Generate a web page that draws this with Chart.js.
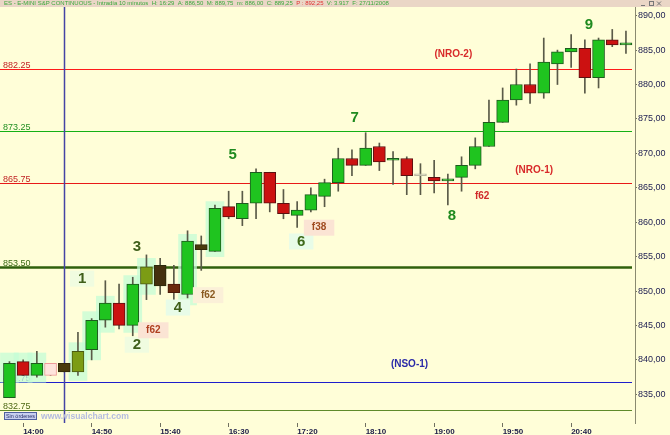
<!DOCTYPE html>
<html>
<head>
  <title>ES - E-MINI S&amp;P CONTINUOUS - Intradía 10 minutos</title>
  <script src="https://cdn.jsdelivr.net/npm/chart.js"></script>
  <style>
    html, body { margin: 0; padding: 0; background: #fffed8; }
    #contenedor { width: 670px; height: 435px; }
  </style>
</head>
<body>
  <div id="contenedor">
    <canvas id="myChart" width="670" height="435"></canvas>
  </div>

  <script>
    // velas de 10 minutos, de 13:50 a 21:20
    var horas = ['13:50','14:00','14:10','14:20','14:30','14:40','14:50','15:00','15:10','15:20',
                 '15:30','15:40','15:50','16:00','16:10','16:20','16:30','16:40','16:50','17:00',
                 '17:10','17:20','17:30','17:40','17:50','18:00','18:10','18:20','18:30','18:40',
                 '18:50','19:00','19:10','19:20','19:30','19:40','19:50','20:00','20:10','20:20',
                 '20:30','20:40','20:50','21:00','21:10','21:20'];

    var apertura = [834.50, 839.75, 837.75, 839.50, 838.25, 838.25, 841.50, 845.75, 848.25, 845.00,
                    851.00, 853.75, 851.00, 849.50, 856.00, 855.75, 862.25, 860.50, 862.75, 867.25,
                    862.75, 861.00, 861.75, 863.75, 865.75, 869.25, 868.25, 871.00, 869.00, 869.25,
                    866.75, 866.50, 866.00, 866.50, 868.25, 871.00, 874.50, 877.75, 880.00, 878.75,
                    883.00, 884.75, 885.25, 881.00, 886.50, 885.75];
    var maximo   = [839.75, 840.00, 841.25, 839.50, 839.50, 844.00, 846.00, 851.50, 851.00, 852.00,
                    855.25, 854.75, 853.75, 858.75, 858.00, 862.50, 864.50, 864.50, 867.75, 867.25,
                    864.75, 863.00, 865.00, 866.25, 870.75, 870.50, 873.00, 871.50, 870.25, 869.50,
                    868.50, 869.00, 867.00, 869.50, 872.25, 877.75, 879.50, 882.25, 883.00, 886.75,
                    885.00, 887.25, 886.50, 886.75, 888.00, 887.75];
    var minimo   = [834.50, 837.75, 837.50, 837.75, 838.25, 837.75, 840.00, 844.75, 844.50, 843.50,
                    848.75, 849.50, 848.25, 849.00, 853.00, 855.75, 860.50, 859.50, 860.50, 861.50,
                    860.50, 859.25, 861.50, 862.25, 864.50, 866.75, 868.25, 867.50, 865.50, 864.00,
                    864.00, 864.25, 862.50, 864.50, 867.75, 871.00, 874.50, 877.00, 877.25, 878.00,
                    880.00, 882.50, 878.75, 879.50, 885.50, 884.50];
    var cierre   = [839.50, 837.75, 839.50, 837.75, 839.50, 841.25, 845.75, 848.25, 845.00, 851.00,
                    853.50, 850.75, 849.75, 857.25, 856.75, 862.00, 860.75, 862.75, 867.25, 862.75,
                    861.25, 861.75, 864.00, 865.75, 869.25, 868.25, 870.75, 868.75, 869.00, 866.75,
                    866.75, 866.00, 866.25, 868.25, 871.00, 874.50, 877.75, 880.00, 878.75, 883.25,
                    884.75, 885.25, 881.00, 886.50, 885.75, 886.00];

    // zonas resaltadas (verde muy claro) detras de algunas velas
    var sombraVela = [0, 1, 2, 5, 6, 7, 9, 10, 13, 15];
    var sombraBajo = [836.75, 836.75, 836.75, 837.00, 840.00, 844.00, 844.00, 849.50, 848.00, 855.00];
    var sombraAlto = [841.00, 841.00, 841.00, 842.50, 847.00, 849.25, 852.25, 854.75, 858.25, 863.00];

    // niveles horizontales
    var niveles       = [882.25, 873.25, 865.75, 853.50, 836.75, 832.75];
    var nivelesTexto  = ['882.25', '873.25', '865.75', '853.50', '836.75', '832.75'];
    var nivelesColor  = ['#ff1a1a', '#14b014', '#e81818', '#2f600c', '#1e1ecc', '#5f8a2a'];
    var nivelesGrosor = [1, 1, 1, 2.5, 1, 1];
    var nivelesLetra  = ['#c02424', '#229022', '#c02424', '#3a6a14', '#2a2aa0', '#4f6a14'];

    // etiquetas sobre el grafico (indice de vela, precio)
    var notas = [
      { t: '1', x: 5.3,  y: 851.8, c: '#3f5f1a', f: 'bold 15px', fondo: '#f0fce0' },
      { t: '2', x: 9.3,  y: 842.2, c: '#3f5f1a', f: 'bold 15px', fondo: '#f0fce0' },
      { t: '3', x: 9.3,  y: 856.4, c: '#3f5f1a', f: 'bold 15px' },
      { t: '4', x: 12.3, y: 847.6, c: '#3f5f1a', f: 'bold 15px', fondo: '#e8fce8' },
      { t: '5', x: 16.3, y: 869.8, c: '#1f8a1f', f: 'bold 15px' },
      { t: '6', x: 21.3, y: 857.2, c: '#3f6a1a', f: 'bold 15px', fondo: '#e8fce8' },
      { t: '7', x: 25.2, y: 875.1, c: '#1f8a1f', f: 'bold 15px' },
      { t: '8', x: 32.3, y: 860.9, c: '#1f8a1f', f: 'bold 15px' },
      { t: '9', x: 42.3, y: 888.6, c: '#1f8a1f', f: 'bold 15px' },
      { t: 'f62', x: 10.5, y: 844.3, c: '#b04020', f: 'bold 10px', fondo: '#fbe4d4' },
      { t: 'f62', x: 14.5, y: 849.4, c: '#8a5a20', f: 'bold 10px', fondo: '#fbf0d8' },
      { t: 'f38', x: 22.6, y: 859.2, c: '#a04a20', f: 'bold 10px', fondo: '#fbe4d4' },
      { t: 'f62', x: 34.5, y: 863.8, c: '#d02a2a', f: 'bold 10px' },
      { t: '(NRO-2)', x: 32.4, y: 884.4, c: '#d82a2a', f: 'bold 10px' },
      { t: '(NRO-1)', x: 38.3, y: 867.6, c: '#d82a2a', f: 'bold 10px' },
      { t: '(NSO-1)', x: 29.2, y: 839.4, c: '#2a2aa8', f: 'bold 10px' }
    ];

    var lineaVertical = 4; // 14:30
    var ticksX = [1, 6, 11, 16, 21, 26, 31, 36, 41];

    // colores especiales de algunas velas
    var especiales = {
      3:  { fill: '#ffe4dc', borde: '#f09a9a' },
      4:  { fill: '#4a3a0c', borde: '#33280a' },
      5:  { fill: '#7c9c14', borde: '#4a5a10' },
      10: { fill: '#7c9c14', borde: '#4a5a10' },
      11: { fill: '#44300e', borde: '#2a2a0a' },
      12: { fill: '#6a2a0c', borde: '#4a1a08' },
      14: { fill: '#4a3a0c', borde: '#33280a' },
      30: { fill: '#d8d8c0', borde: '#b8b8a0' }
    };

    var cuerpos = [], mechas = [], rellenos = [], bordes = [], sombras = [];
    for (var i = 0; i < horas.length; i++) {
      cuerpos.push({ x: i, y: [apertura[i], cierre[i]] });
      mechas.push({ x: i, y: [minimo[i], maximo[i]] });
      var sube = cierre[i] >= apertura[i];
      if (especiales[i]) {
        rellenos.push(especiales[i].fill);
        bordes.push(especiales[i].borde);
      } else {
        rellenos.push(sube ? '#1fc41f' : '#cc1111');
        bordes.push(sube ? '#1f5a1f' : '#5a1010');
      }
    }
    for (var s = 0; s < sombraVela.length; s++) {
      sombras.push({ x: sombraVela[s], y: [sombraBajo[s], sombraAlto[s]] });
    }

    var dibujo = {
      id: 'dibujo',
      beforeDraw: function(chart) {
        var ctx = chart.ctx;
        ctx.save();
        ctx.fillStyle = '#fffed8';
        ctx.fillRect(0, 0, chart.width, chart.height);
        ctx.restore();
      },
      beforeDatasetsDraw: function(chart) {
        var ctx = chart.ctx, a = chart.chartArea;
        var ys = chart.scales.y, xs = chart.scales.x;
        ctx.save();
        for (var k = 0; k < niveles.length; k++) {
          var py = Math.round(ys.getPixelForValue(niveles[k])) + 0.5;
          ctx.strokeStyle = nivelesColor[k];
          ctx.lineWidth = nivelesGrosor[k];
          ctx.beginPath();
          ctx.moveTo(a.left, py);
          ctx.lineTo(a.right - 3, py);
          ctx.stroke();
          ctx.fillStyle = nivelesLetra[k];
          ctx.font = '9px "Liberation Sans", Arial, sans-serif';
          ctx.textAlign = 'left';
          ctx.textBaseline = 'alphabetic';
          ctx.fillText(nivelesTexto[k], 3, py - 2);
        }
        var px = Math.round(xs.getPixelForValue(lineaVertical)) + 0.5;
        ctx.strokeStyle = '#4444a4';
        ctx.lineWidth = 1.5;
        ctx.beginPath();
        ctx.moveTo(px, a.top);
        ctx.lineTo(px, a.bottom);
        ctx.stroke();
        ctx.restore();
      },
      afterDatasetsDraw: function(chart) {
        var ctx = chart.ctx, a = chart.chartArea;
        var ys = chart.scales.y, xs = chart.scales.x;
        ctx.save();
        ctx.textAlign = 'center';
        ctx.textBaseline = 'middle';
        notas.forEach(function(n) {
          var px = xs.getPixelForValue(n.x), py = ys.getPixelForValue(n.y);
          ctx.font = n.f + ' "Liberation Sans", Arial, sans-serif';
          if (n.fondo) {
            var w = ctx.measureText(n.t).width;
            ctx.fillStyle = n.fondo;
            ctx.fillRect(px - w / 2 - 8, py - 8, w + 16, 16);
          }
          ctx.fillStyle = n.c;
          ctx.fillText(n.t, px, py);
        });

        // caja "Sin órdenes" y marca
        ctx.textAlign = 'left';
        ctx.fillStyle = '#c8d0f0';
        ctx.fillRect(4, 412, 33, 8);
        ctx.strokeStyle = '#5060a0';
        ctx.lineWidth = 1;
        ctx.strokeRect(4.5, 412.5, 32, 7);
        ctx.fillStyle = '#28306a';
        ctx.font = '6px "Liberation Sans", Arial, sans-serif';
        ctx.fillText('Sin órdenes', 6, 416.5, 29);
        ctx.fillStyle = '#b4bce0';
        ctx.font = 'bold 9px "Liberation Sans", Arial, sans-serif';
        ctx.fillText('www.visualchart.com', 41, 416.5, 88);
        ctx.restore();
      },
      afterDraw: function(chart) {
        var ctx = chart.ctx;
        ctx.save();
        ctx.fillStyle = '#ead6c6';
        ctx.fillRect(0, 0, chart.width, 7);
        ctx.font = '6px "Liberation Sans", Arial, sans-serif';
        ctx.textBaseline = 'middle';
        ctx.textAlign = 'left';
        var partes = [
          ['ES - E-MINI S&P CONTINUOUS - Intradía 10 minutos  H: 16:29  A: 886,50  M: 889,75  m: 886,00  C: 889,25  ', '#3aa83a'],
          ['P : 892,25', '#e03030'],
          ['  V: 3.917  F: 27/11/2008', '#3aa83a']
        ];
        var x = 4;
        partes.forEach(function(p) {
          ctx.fillStyle = p[1];
          ctx.fillText(p[0], x, 3.8);
          x += ctx.measureText(p[0]).width;
        });
        // botones de ventana
        ctx.strokeStyle = '#777';
        ctx.lineWidth = 1;
        ctx.strokeRect(649.5, 1.5, 4, 4);
        ctx.beginPath();
        ctx.moveTo(641, 5.5); ctx.lineTo(645, 5.5);
        ctx.moveTo(657, 1.5); ctx.lineTo(661, 5.5);
        ctx.moveTo(661, 1.5); ctx.lineTo(657, 5.5);
        ctx.stroke();
        ctx.restore();
      }
    };

    var ctx = document.getElementById('myChart').getContext('2d');
    var myChart = new Chart(ctx, {
      type: 'bar',
      data: {
        datasets: [
          {
            label: 'Cuerpo',
            data: cuerpos,
            backgroundColor: rellenos,
            borderColor: bordes,
            borderWidth: 1,
            borderSkipped: false,
            barThickness: 12,
            minBarLength: 2,
            grouped: false,
            order: 0
          },
          {
            label: 'Mecha',
            data: mechas,
            backgroundColor: '#5a5a48',
            borderWidth: 0,
            barThickness: 1,
            grouped: false,
            order: 1
          },
          {
            label: 'Zona',
            data: sombras,
            backgroundColor: 'rgba(196, 252, 214, 0.75)',
            borderWidth: 0,
            barThickness: 18,
            grouped: false,
            order: 2
          }
        ]
      },
      options: {
        responsive: false,
        animation: false,
        devicePixelRatio: 1,
        layout: { padding: { top: 7, left: 0, right: 0, bottom: 0 } },
        plugins: {
          legend: { display: false },
          tooltip: { enabled: false }
        },
        scales: {
          x: {
            type: 'linear',
            offset: false,
            min: -0.69,
            max: 45.66,
            position: 'bottom',
            grid: { offset: false, drawOnChartArea: false, drawTicks: true, tickLength: 4, color: '#707060' },
            border: { display: false },
            afterBuildTicks: function(scale) {
              scale.ticks = ticksX.map(function(v) { return { value: v }; });
            },
            afterFit: function(scale) { scale.height = 12; },
            ticks: {
              autoSkip: false,
              maxRotation: 0,
              align: 'start',
              padding: 0,
              color: '#20204a',
              font: { family: '"Liberation Sans", Arial, sans-serif', size: 8, weight: 'bold' },
              callback: function(value) { return horas[value]; }
            }
          },
          y: {
            type: 'linear',
            position: 'right',
            min: 830.83,
            max: 891.26,
            grid: { drawOnChartArea: false, drawTicks: true, tickLength: 2, color: '#707060' },
            border: { display: true, color: '#8a8a70', width: 1 },
            afterFit: function(scale) { scale.width = 35; },
            ticks: {
              stepSize: 5,
              includeBounds: false,
              maxTicksLimit: 20,
              padding: 1,
              color: '#1c1c50',
              font: { family: '"Liberation Sans", Arial, sans-serif', size: 9 },
              callback: function(value) { return value.toFixed(2).replace('.', ','); }
            }
          }
        }
      },
      plugins: [dibujo]
    });
  </script>
</body>
</html>
